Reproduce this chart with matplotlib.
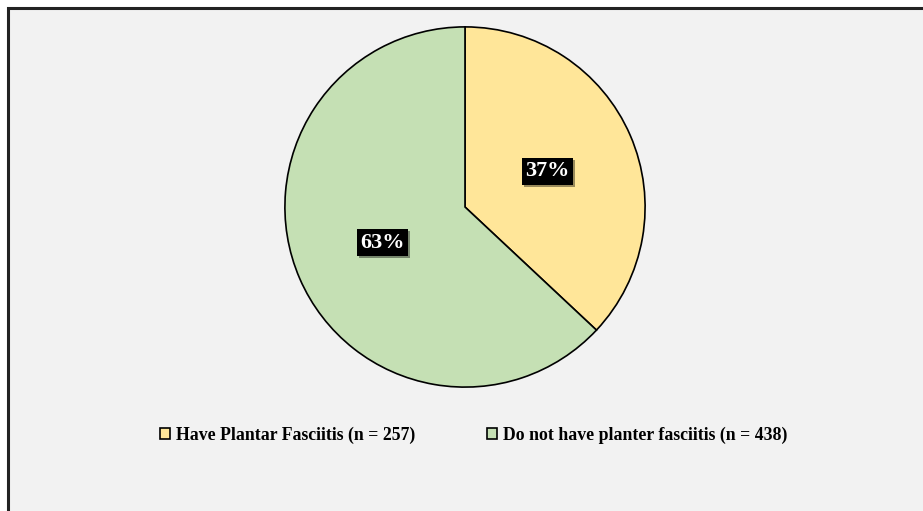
import matplotlib.pyplot as plt
from matplotlib.patches import Rectangle
import matplotlib.patheffects as pe

# Plantar fasciitis counts
etiquetas = ["Have Plantar Fasciitis (n = 257)", "Do not have planter fasciitis (n = 438)"]
conteos = [257, 438]
colores = ["#ffe699", "#c5e0b4"]

plt.rcParams['font.family'] = ['Liberation Serif', 'DejaVu Serif']

fig = plt.figure(figsize=(9.23, 5.11), dpi=100)
fig.patch.set_facecolor("white")

# Gray chart area with dark border (top and left)
fondo = fig.add_axes([0, 0, 1, 1], zorder=-1)
fondo.set_axis_off()
fondo.add_patch(Rectangle((8 / 923, -0.01), 1.1, 1.01 - 8 / 511, transform=fondo.transAxes,
                          facecolor="#f2f2f2", edgecolor="#222222", linewidth=2.2,
                          clip_on=False))

ax = fig.add_axes([(465 - 181) / 923, 1 - 388 / 511, 362 / 923, 362 / 511])
ax.set_facecolor("none")

wedges, textos, pcts = ax.pie(
    conteos, colors=colores, startangle=90, counterclock=False,
    autopct=lambda p: f"{p:.0f}%", pctdistance=0.5,
    wedgeprops=dict(edgecolor="black", linewidth=1.2),
)
for t in pcts:
    t.set_color("white")
    t.set_fontsize(16)
    t.set_fontweight("bold")
    t.set_bbox(dict(facecolor="black", edgecolor="none", pad=2.5,
                    path_effects=[pe.SimplePatchShadow(offset=(1.5, -1.5), alpha=0.4),
                                  pe.Normal()]))
ax.set_xlim(-1.005, 1.005)
ax.set_ylim(-1.005, 1.005)
ax.set_aspect("equal")

leg = fig.legend(wedges, etiquetas, loc="center", bbox_to_anchor=(474 / 923, 1 - 435 / 511),
                 ncol=2, frameon=False, handlelength=0.55, handleheight=0.55,
                 handletextpad=0.35, columnspacing=4.05,
                 prop=dict(size=12.8, weight="bold"))
for h in leg.legend_handles:
    h.set_linewidth(1.2)

fig.savefig("out.png", dpi=100)
